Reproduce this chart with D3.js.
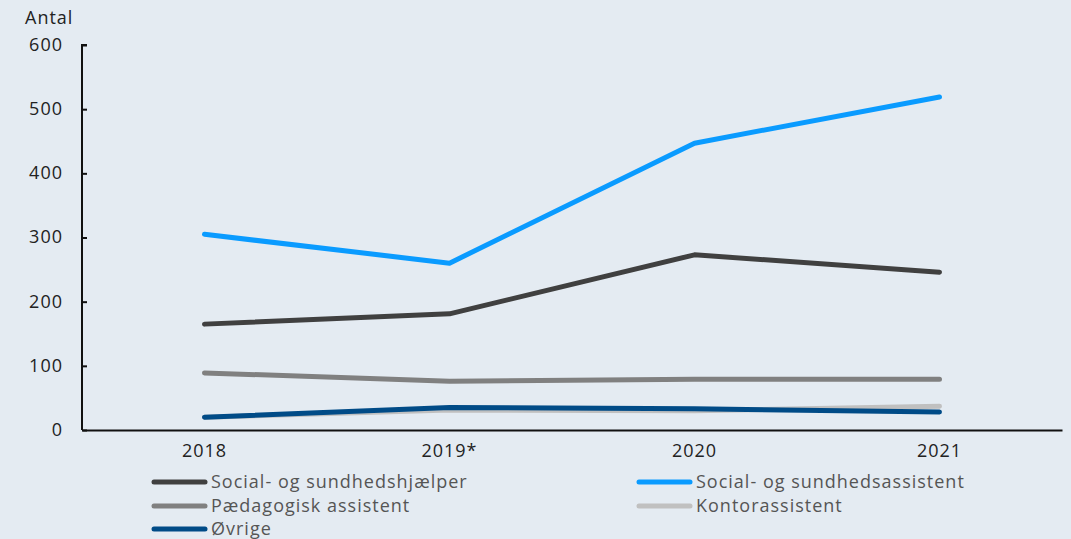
<!DOCTYPE html>
<html><head><meta charset="utf-8">
<script src="https://cdn.jsdelivr.net/npm/d3@7"></script>
<style>
html,body{margin:0;padding:0;background:#e4ebf2;}
svg{display:block;font-family:"Open Sans", sans-serif;}
svg text{letter-spacing:1px;}
</style></head>
<body><svg id="c" width="1071" height="539"></svg>
<script>
const categories = ["2018", "2019*", "2020", "2021"];
const seriesNames = ["Social- og sundhedshjælper", "Social- og sundhedsassistent", "Pædagogisk assistent", "Kontorassistent", "Øvrige"];
const sosuHjaelper = [165, 181, 273, 246];
const sosuAssistent = [305, 260, 447, 519];
const paedagogisk = [89, 76, 79, 79];
const kontor = [20, 31, 30, 37];
const oevrige = [20, 35, 33, 28];
const yTicks = [0, 100, 200, 300, 400, 500, 600];
const colors = ["#404040", "#0a9bff", "#808080", "#c0c0c0", "#004b87"];

(function () {
const series = [
  {name: seriesNames[0], values: sosuHjaelper, color: colors[0]},
  {name: seriesNames[1], values: sosuAssistent, color: colors[1]},
  {name: seriesNames[2], values: paedagogisk, color: colors[2]},
  {name: seriesNames[3], values: kontor, color: colors[3]},
  {name: seriesNames[4], values: oevrige, color: colors[4]}
];

const svg = d3.select("#c");
const mLeft = 82, mRight = 1062, mTop = 45, mBottom = 430;
const x = d3.scaleBand().domain(categories).range([mLeft, mRight]).padding(0);
const y = d3.scaleLinear().domain([0, 600]).range([mBottom, mTop]);
const fs = "18px";

// y axis
const ya = svg.append("g").attr("transform", `translate(${mLeft},0)`)
  .call(d3.axisRight(y).tickValues(yTicks).tickSize(5).tickFormat(d3.format("d")));
ya.select(".domain").attr("stroke", "#111").attr("stroke-width", 2).attr("d", `M5,${mTop}H0V${mBottom}`);
ya.selectAll(".tick line").attr("stroke", "#111").attr("stroke-width", 2);
ya.selectAll(".tick text").attr("x", -19).attr("text-anchor", "end").attr("fill", "#222")
  .style("font-size", fs).style("font-family", "'Open Sans', sans-serif").attr("dy", "0.3em");

// x axis
const xa = svg.append("g").attr("transform", `translate(0,${mBottom})`)
  .call(d3.axisBottom(x).tickSize(0).tickPadding(14));
xa.select(".domain").attr("stroke", "#111").attr("stroke-width", 2);
xa.selectAll(".tick text").attr("fill", "#222").style("font-size", fs).style("font-family", "'Open Sans', sans-serif");

svg.append("text").attr("x", 25).attr("y", 24).text("Antal").attr("fill", "#222").style("font-size", fs);

const line = d3.line().x((d, i) => x(categories[i]) + x.bandwidth() / 2).y(d => y(d));
series.forEach(s => {
  svg.append("path").attr("d", line(s.values)).attr("fill", "none")
    .attr("stroke", s.color).attr("stroke-width", 5).attr("stroke-linecap", "round").attr("stroke-linejoin", "round");
});

// legend
const legPos = [[152, 482], [637, 482], [152, 506], [637, 506], [152, 529]];
series.forEach((s, i) => {
  const [lx, ly] = legPos[i];
  const g = svg.append("g");
  g.append("line").attr("x1", lx + 2).attr("x2", lx + 53).attr("y1", ly).attr("y2", ly)
    .attr("stroke", s.color).attr("stroke-width", 5).attr("stroke-linecap", "round");
  g.append("text").attr("x", lx + 59).attr("y", ly).attr("dy", "0.35em").text(s.name)
    .attr("fill", "#555").style("font-size", fs);
});
})();
</script></body></html>
